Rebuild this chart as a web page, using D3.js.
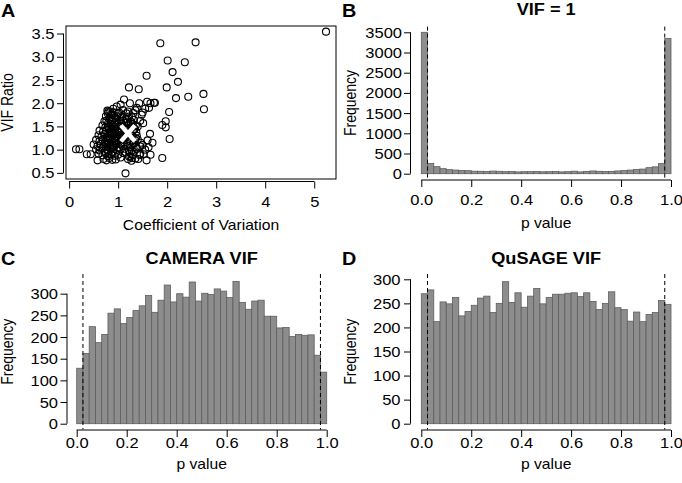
<!DOCTYPE html>
<html><head><meta charset="utf-8">
<script src="https://cdn.jsdelivr.net/npm/d3@7"></script>
<style>html,body{margin:0;padding:0;background:#fff}svg{display:block;font-family:"Liberation Sans",Arial,Helvetica,sans-serif}</style>
</head><body><svg id="fig" width="682" height="483"></svg>
<script>
// ---------- DATA ----------
const cvValues = [
 5.24,1.86,2.58,2.01,2.36,2.11,2.22,1.99,2.18,2.43,2.74,2.75,1.73,2.04,1.97,1.90,1.97,2.05,1.90,1.58,1.22,1.42,1.12,1.65,1.51,1.70,1.50,1.66,1.52,1.58,1.41,1.15,0.14,0.21,0.36,0.44,0.58,
 1.24,1.43,1.59,1.75,1.66,1.05,0.97,0.90,1.38,1.55,1.63,1.50,1.35,1.20,1.10,0.80,0.78,0.85,1.00,1.48,1.28,0.95,0.88,1.45,1.40,1.30,1.02,1.17,1.31,
 1.60,1.46,1.36,1.55,1.32,1.25,1.44,1.62,1.38,1.28,
 0.75,0.83,0.92,1.08,1.15,1.22,
 0.72,0.80,0.86,0.94,1.02,1.10,1.18,1.26,
 0.68,0.74,0.79,0.84,0.89,0.93,0.99,1.05,1.13,1.21,1.33,
 0.62,0.69,0.75,0.80,0.85,0.90,0.95,1.01,1.07,1.14,1.30,1.37,
 0.60,0.66,0.72,0.77,0.82,0.87,0.92,0.97,1.03,1.10,1.36,
 0.55,0.62,0.68,0.73,0.78,0.83,0.88,0.93,0.99,1.06,1.13,1.24,1.40,
 0.50,0.58,0.64,0.70,0.75,0.80,0.85,0.90,0.96,1.02,1.10,1.19,1.29,1.45,
 0.55,0.62,0.68,0.73,0.78,0.84,0.90,0.97,1.05,1.15,1.28,1.38,
 0.60,0.68,0.74,0.80,0.86,0.93,1.00,1.10,1.22,1.30,1.45,
 0.70,0.76,0.82,0.88,0.95,1.05,1.20,1.27,1.35,
 0.78,0.82,0.86,0.90,0.94,0.81,0.85,0.89,0.93,0.79,0.83,0.87,0.91,0.76,0.84,0.88,0.92,0.96,0.80,0.86,
 1.05,1.12,1.18,1.25,1.32,1.08,1.15,1.22,1.29,1.36,1.04,1.11,1.19,1.27,1.34,1.09,1.16,1.24,1.31,1.20,1.13,1.26,1.06,1.35,1.22,
 0.79,0.84,0.88,0.93,0.82,0.76,0.98
];
const vifRatios = [
 3.54,3.29,3.31,2.92,2.88,2.67,2.46,2.34,2.11,2.14,2.20,1.87,2.01,1.81,1.61,1.53,1.48,1.23,0.82,2.59,2.34,2.30,2.08,1.34,1.57,1.15,1.10,0.89,0.90,0.77,0.80,0.49,1.01,1.01,0.90,0.90,0.77,
 2.00,2.00,2.03,2.01,2.00,1.97,1.93,1.88,1.90,1.88,1.90,1.80,1.85,1.82,1.85,1.82,1.84,1.75,1.78,1.75,1.70,1.68,1.65,1.62,1.50,1.55,1.80,1.78,1.79,
 1.20,1.15,1.05,1.00,0.95,0.85,0.88,1.05,1.30,0.82,
 1.72,1.69,1.73,1.70,1.66,1.71,
 1.61,1.58,1.63,1.60,1.57,1.62,1.59,1.60,
 1.52,1.48,1.50,1.46,1.53,1.49,1.45,1.51,1.47,1.52,1.44,
 1.41,1.38,1.42,1.36,1.40,1.43,1.37,1.39,1.41,1.35,1.40,1.38,
 1.31,1.28,1.33,1.27,1.30,1.32,1.26,1.29,1.31,1.27,1.25,
 1.21,1.18,1.22,1.16,1.20,1.23,1.17,1.19,1.21,1.15,1.20,1.18,1.22,
 1.11,1.08,1.12,1.07,1.10,1.13,1.06,1.09,1.11,1.05,1.08,1.12,1.10,1.07,
 1.01,0.98,1.03,0.97,1.00,1.02,0.96,0.99,1.01,0.95,0.98,1.02,
 0.91,0.88,0.92,0.86,0.90,0.87,0.89,0.93,0.85,0.88,0.91,
 0.80,0.77,0.82,0.78,0.79,0.83,0.80,0.76,0.81,
 1.25,1.15,1.35,1.05,1.24,1.45,1.55,0.95,1.15,1.05,1.33,1.43,1.35,1.25,1.10,1.28,1.45,1.18,0.94,1.02,
 1.62,1.58,1.66,1.60,1.64,1.50,1.46,1.55,1.48,1.52,1.38,1.33,1.42,1.30,1.45,1.22,1.26,1.18,1.14,1.08,1.02,1.05,1.12,1.20,0.96,
 1.78,1.82,1.76,1.80,1.66,1.62,1.72
];
const meanPoint = [1.2, 1.35];
const cvTicks = [0,1,2,3,4,5];
const vifTicks = [0.5,1.0,1.5,2.0,2.5,3.0,3.5];

const binWidth = 0.025;
const countsVIF1 = [3500,255,175,125,100,90,80,75,62,60,55,65,60,50,52,45,50,50,52,48,50,52,45,50,62,45,55,68,60,55,58,68,78,90,105,115,150,170,250,3350];
const countsCAMERA = [128,162,224,187,206,255,265,231,245,261,272,296,257,285,320,281,300,292,327,283,301,298,311,306,291,328,280,264,283,285,248,248,221,222,201,206,204,205,158,119];
const countsQuSAGE = [270,278,212,253,249,262,224,233,246,261,265,231,250,295,252,272,242,265,281,249,262,269,269,271,272,264,272,254,237,250,274,241,237,213,232,212,227,231,256,248];
const pTicks = [0,0.2,0.4,0.6,0.8,1.0];
const freqTicksVIF1 = [0,500,1000,1500,2000,2500,3000,3500];
const freqTicksVIF = [0,50,100,150,200,250,300];
const cutoffs = [0.025, 0.975];

// ---------- DRAW ----------
const SX = 1.18;
const TICK_FS = 14;
const svg = d3.select('#fig');
function label(x, y, s, o = {}) {
  const size = o.size || 14, anchor = o.anchor || 'middle';
  const sx = o.sx || 1.12;
  return svg.append('text')
    .attr('transform', o.rotate ? `translate(${x},${y}) rotate(-90) scale(1,${sx})` : `translate(${x},${y}) scale(${sx},1)`)
    .attr('text-anchor', anchor).attr('font-size', size).attr('font-weight', o.weight || 'normal')
    .attr('fill', '#000').text(s);
}
function axisBottom(scale, ticks, y, fmt, pad) {
  const g = svg.append('g').attr('transform', `translate(0,${y})`)
    .call(d3.axisBottom(scale).tickValues(ticks).tickFormat(fmt).tickSize(7).tickSizeOuter(0));
  g.select('.domain').remove();
  g.append('line').attr('x1', scale(ticks[0])).attr('x2', scale(ticks[ticks.length - 1])).attr('stroke', '#000');
  g.selectAll('.tick line').attr('stroke', '#000');
  g.selectAll('.tick text').attr('font-size', TICK_FS).attr('fill', '#000').attr('font-family', null)
    .attr('y', pad).attr('dy', '0.71em').attr('transform', `scale(${SX},1)`);
}
function axisLeft(scale, ticks, x, fmt, gap) {
  const g = svg.append('g').attr('transform', `translate(${x},0)`)
    .call(d3.axisLeft(scale).tickValues(ticks).tickFormat(fmt).tickSize(6.5).tickSizeOuter(0));
  g.select('.domain').remove();
  g.append('line').attr('y1', scale(ticks[0])).attr('y2', scale(ticks[ticks.length - 1])).attr('stroke', '#000');
  g.selectAll('.tick line').attr('stroke', '#000');
  g.selectAll('.tick text').attr('font-size', TICK_FS).attr('fill', '#000').attr('font-family', null)
    .attr('x', -gap / SX).attr('dy', '0.36em').attr('transform', `scale(${SX},1)`);
}

// Panel A: scatter
{
  const x = d3.scaleLinear().domain([-0.064, 5.444]).range([66, 336]);
  const y = d3.scaleLinear().domain([0.368, 3.662]).range([179, 26]);
  svg.append('rect').attr('x', 66).attr('y', 26).attr('width', 270).attr('height', 153)
    .attr('fill', 'none').attr('stroke', '#000');
  svg.append('g').selectAll('circle').data(d3.range(cvValues.length)).join('circle')
    .attr('cx', i => x(cvValues[i])).attr('cy', i => y(vifRatios[i])).attr('r', 3.5)
    .attr('fill', 'none').attr('stroke', '#000').attr('stroke-width', 1.1);
  const cx = x(meanPoint[0]), cy = y(meanPoint[1]);
  svg.append('path').attr('d', `M${cx-7},${cy-8}L${cx+7},${cy+8}M${cx+7},${cy-8}L${cx-7},${cy+8}`)
    .attr('stroke', '#fff').attr('stroke-width', 4.5).attr('fill', 'none');
  axisBottom(x, cvTicks, 181.5, d3.format('d'), 15.5);
  axisLeft(y, vifTicks, 63.5, d3.format('.1f'), 9);
  label(201, 229.5, 'Coefficient of Variation');
  label(13, 102.5, 'VIF Ratio', { rotate: true });
  label(1, 17, 'A', { size: 18, weight: 'bold', anchor: 'start', sx: 1.1 });
}

function histogram(counts, xr, yr, yDomTop, regionTop, regionBottom, axisY, axisX, yTicks, tickPad, gapY, title, titleY, xTitleY, yTitleX, letter, letterX, letterY) {
  const x = d3.scaleLinear().domain([0, 1]).range(xr);
  const y = d3.scaleLinear().domain([0, yDomTop]).range(yr);
  svg.append('g').selectAll('rect').data(counts).join('rect')
    .attr('x', (d, i) => x(i * binWidth)).attr('width', (d, i) => x((i + 1) * binWidth) - x(i * binWidth))
    .attr('y', d => y(d)).attr('height', d => y(0) - y(d))
    .attr('fill', '#8d8d8d').attr('stroke', '#5e5e5e').attr('stroke-width', 0.8);
  svg.append('g').selectAll('line').data(cutoffs).join('line')
    .attr('x1', d => x(d)).attr('x2', d => x(d)).attr('y1', regionTop).attr('y2', regionBottom)
    .attr('stroke', '#000').attr('stroke-width', 1).attr('stroke-dasharray', '4,3');
  axisBottom(x, pTicks, axisY, d3.format('.1f'), tickPad);
  axisLeft(y, yTicks, axisX, d3.format('d'), gapY);
  const cxm = (x(-0.04) + x(1.04)) / 2;
  label(cxm, titleY, title, { size: 16.5, weight: 'bold', sx: 1.1 });
  label(cxm, xTitleY, 'p value');
  label(yTitleX, (regionTop + regionBottom) / 2, 'Frequency', { rotate: true });
  label(letterX, letterY, letter, { size: 18, weight: 'bold', anchor: 'start', sx: 1.1 });
}

histogram(countsVIF1, [421.3, 671], [173.7, 32.3], 3500, 26.6, 179.4, 180, 410.5, freqTicksVIF1, 15.5, 8.5,
  'VIF = 1', 15, 228, 356, 'B', 342, 17);
histogram(countsCAMERA, [76.7, 326.7], [423.7, 293.7], 300, 274, 429.5, 430, 67, freqTicksVIF, 8.5, 9,
  'CAMERA VIF', 263.5, 469, 12.5, 'C', 1, 265);
histogram(countsQuSAGE, [421.3, 671], [423.7, 279.3], 300, 274, 429.5, 430, 410.5, freqTicksVIF, 8.5, 10,
  'QuSAGE VIF', 263.5, 469, 356, 'D', 342, 265);
</script></body></html>
